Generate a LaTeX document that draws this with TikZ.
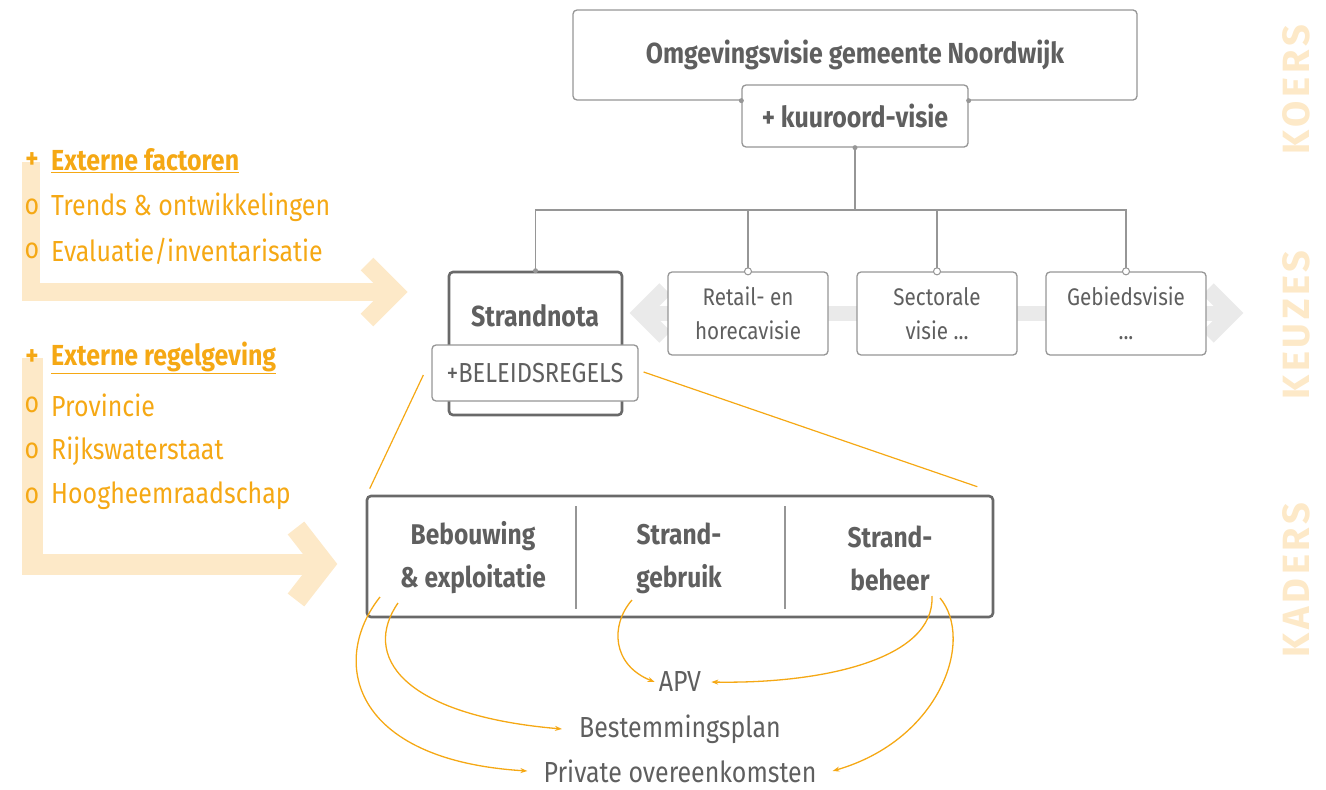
\documentclass[tikz,border=0pt]{standalone}
\usepackage{fontspec}
\setmainfont{Fira Sans}[FakeStretch=0.86]
\newfontfamily\sidefont{Fira Sans}[LetterSpace=10]
\usetikzlibrary{arrows.meta}
\usepackage{xcolor}

\definecolor{txtgray}{RGB}{95,95,95}
\definecolor{boxgray}{RGB}{150,150,150}
\definecolor{framegray}{RGB}{105,105,105}
\definecolor{amber}{RGB}{245,168,20}
\definecolor{paleamber}{RGB}{253,233,200}
\definecolor{bandgray}{RGB}{234,234,234}

\begin{document}
\begin{tikzpicture}[x=1pt, y=-1pt,
	box/.style={draw=boxgray, line width=1.3pt, rounded corners=4pt, fill=white, text=txtgray, align=center, inner sep=0pt},
	kaderbox/.style={draw=framegray, line width=2.6pt, rounded corners=4pt, fill=white, inner sep=0pt},
	link/.style={draw=boxgray, line width=1.2pt},
	dot/.style={circle, fill=boxgray, inner sep=0pt, minimum size=5pt},
	opendot/.style={circle, draw=boxgray, fill=white, line width=1pt, inner sep=0pt, minimum size=7pt},
	boldtxt/.style={text=txtgray, font=\fontsize{29}{33}\selectfont\bfseries, align=center},
	plaintxt/.style={text=txtgray, font=\fontsize{29}{33}\selectfont, inner sep=2pt},
	flow/.style={amber, line width=1.3pt, -{Stealth[length=7pt,width=5pt]}},
	orangetxt/.style={text=amber, anchor=west, font=\fontsize{29}{33}\selectfont, inner sep=0pt},
	bullet/.style={text=amber, font=\fontsize{29}{33}\selectfont, inner sep=0pt},
	side/.style={text=paleamber, rotate=90, font=\sidefont\fontsize{38}{42}\selectfont\bfseries}]
\useasboundingbox (0,0) rectangle (1326,790);

% pale arrows on the left
\draw[paleamber, line width=18pt, line join=miter] (31,162) |- (390,292);
\draw[paleamber, line width=18pt, line join=miter] (367,264) -- (395,292) -- (367,320);
\draw[paleamber, line width=21pt, line join=miter] (32,358) |- (318,564);
\draw[paleamber, line width=21pt, line join=miter] (296,528) -- (324,564) -- (296,600);

% grey band behind the visions
\draw[bandgray, line width=15pt] (650,313) -- (1225,313);
\draw[bandgray, line width=16pt, line join=miter] (665,289) -- (641,313) -- (665,337);
\draw[bandgray, line width=16pt, line join=miter] (1208,289) -- (1232,313) -- (1208,337);

% side labels
\node[side] (koers) at (1296,90) {KOERS};
\node[side] (keuzes) at (1296,325) {KEUZES};
\node[side] (kaders) at (1296,580) {KADERS};

% top
\node[box, minimum width=564pt, minimum height=90pt, font=\fontsize{29}{33}\selectfont\bfseries] (visie) at (855,55) {Omgevingsvisie gemeente Noordwijk};
\node[box, minimum width=226pt, minimum height=62pt, font=\fontsize{29}{33}\selectfont\bfseries] (kuur) at (855,116) {+ kuuroord-visie};
\node[dot] at (kuur.west |- visie.south) {};
\node[dot] at (kuur.east |- visie.south) {};

% second row
\node[kaderbox, minimum width=173pt, minimum height=143pt] (strand) at (535.5,343.5) {};
\node[boldtxt] (strandlbl) at (535,316) {Strandnota};
\node[box, minimum width=206pt, minimum height=56pt, font=\fontsize{27.5}{30}\selectfont] (bel) at (535,373) {+BELEIDSREGELS};
\node[box, minimum width=160pt, minimum height=83pt, font=\fontsize{24}{34}\selectfont] (retail) at (748,313.5) {Retail- en\\horecavisie};
\node[box, minimum width=160pt, minimum height=83pt, font=\fontsize{24}{34}\selectfont] (sector) at (937,313.5) {Sectorale\\visie ...};
\node[box, minimum width=160pt, minimum height=83pt, font=\fontsize{24}{34}\selectfont] (gebied) at (1126,313.5) {Gebiedsvisie\\...};

% tree
\coordinate (hub) at (855,210);
\draw[link] (kuur.south) -- (hub);
\draw[link] (strand.north) |- (hub) -| (gebied.north);
\draw[link] (retail.north) -- (retail.north |- hub);
\draw[link] (sector.north) -- (sector.north |- hub);
\node[dot] at (kuur.south) {};
\node[dot] at (strand.north) {};
\node[opendot] at (retail.north) {};
\node[opendot] at (sector.north) {};
\node[opendot] at (gebied.north) {};

% frameworks
\node[kaderbox, minimum width=626pt, minimum height=121pt] (kad) at (680,556.5) {};
\draw[link] (576,506) -- (576,609);
\draw[link] (785,506) -- (785,609);
\node[boldtxt, font=\fontsize{28.5}{43}\selectfont\bfseries] (beb) at (473,558) {Bebouwing\\\& exploitatie};
\node[boldtxt, font=\fontsize{28.5}{43}\selectfont\bfseries] (gebr) at (679,558) {Strand-\\gebruik};
\node[boldtxt, font=\fontsize{28.5}{43}\selectfont\bfseries] (beh) at (890,558) {Strand-\\beheer};

\draw[amber, line width=1.2pt] ([shift={(-8,2)}]bel.west) -- ([shift={(4,-6)}]kad.north west);
\draw[amber, line width=1.2pt] ([shift={(5,-1)}]bel.east) -- ([shift={(-17,-8)}]kad.north east);

% instruments
\node[plaintxt] (apv) at (680,682) {APV};
\node[plaintxt] (bestem) at (680,729) {Bestemmingsplan};
\node[plaintxt] (priv) at (680,771) {Private overeenkomsten};
\coordinate (bebA) at (380,597);
\coordinate (bebB) at (398,603);
\coordinate (gebrA) at (632,600);
\coordinate (behA) at (932,596);
\coordinate (behB) at (940,598);
\draw[flow] (bebA) .. controls (330,660) and (350,760) .. ([xshift=-14pt]priv.west);
\draw[flow] (bebB) .. controls (362,655) and (400,715) .. ([xshift=-15pt]bestem.west);
\draw[flow] (gebrA) .. controls (610,625) and (612,665) .. ([xshift=-2pt]apv.west);
\draw[flow] (behA) .. controls (935,660) and (820,684) .. ([xshift=8pt]apv.east);
\draw[flow] (behB) .. controls (975,640) and (940,740) .. ([xshift=14pt]priv.east);

% outside factors
\node[bullet, font=\fontsize{29}{33}\selectfont\bfseries] (plus1) at (32,161) {+};
\node[orangetxt, font=\fontsize{29}{33}\selectfont\bfseries] (ext1) at (51,161) {\underline{Externe factoren}};
\node[bullet] (o1) at (32,207) {o};
\node[orangetxt] (trends) at (51,207) {Trends \& ontwikkelingen};
\node[bullet] (o2) at (32,251) {o};
\node[orangetxt] (eval) at (51,251) {Evaluatie/inventarisatie};

\node[bullet, font=\fontsize{29}{33}\selectfont\bfseries] (plus2) at (32,358) {+};
\node[orangetxt, font=\fontsize{29}{33}\selectfont\bfseries] (ext2) at (51,358) {\underline{Externe regelgeving}};
\node[bullet] (o3) at (32,405) {o};
\node[orangetxt] (prov) at (51,405) {Provincie};
\node[bullet] (o4) at (32,451) {o};
\node[orangetxt] (rws) at (51,451) {Rijkswaterstaat};
\node[bullet] (o5) at (32,496) {o};
\node[orangetxt] (hhs) at (51,496) {Hoogheemraadschap};
\end{tikzpicture}
\end{document}
